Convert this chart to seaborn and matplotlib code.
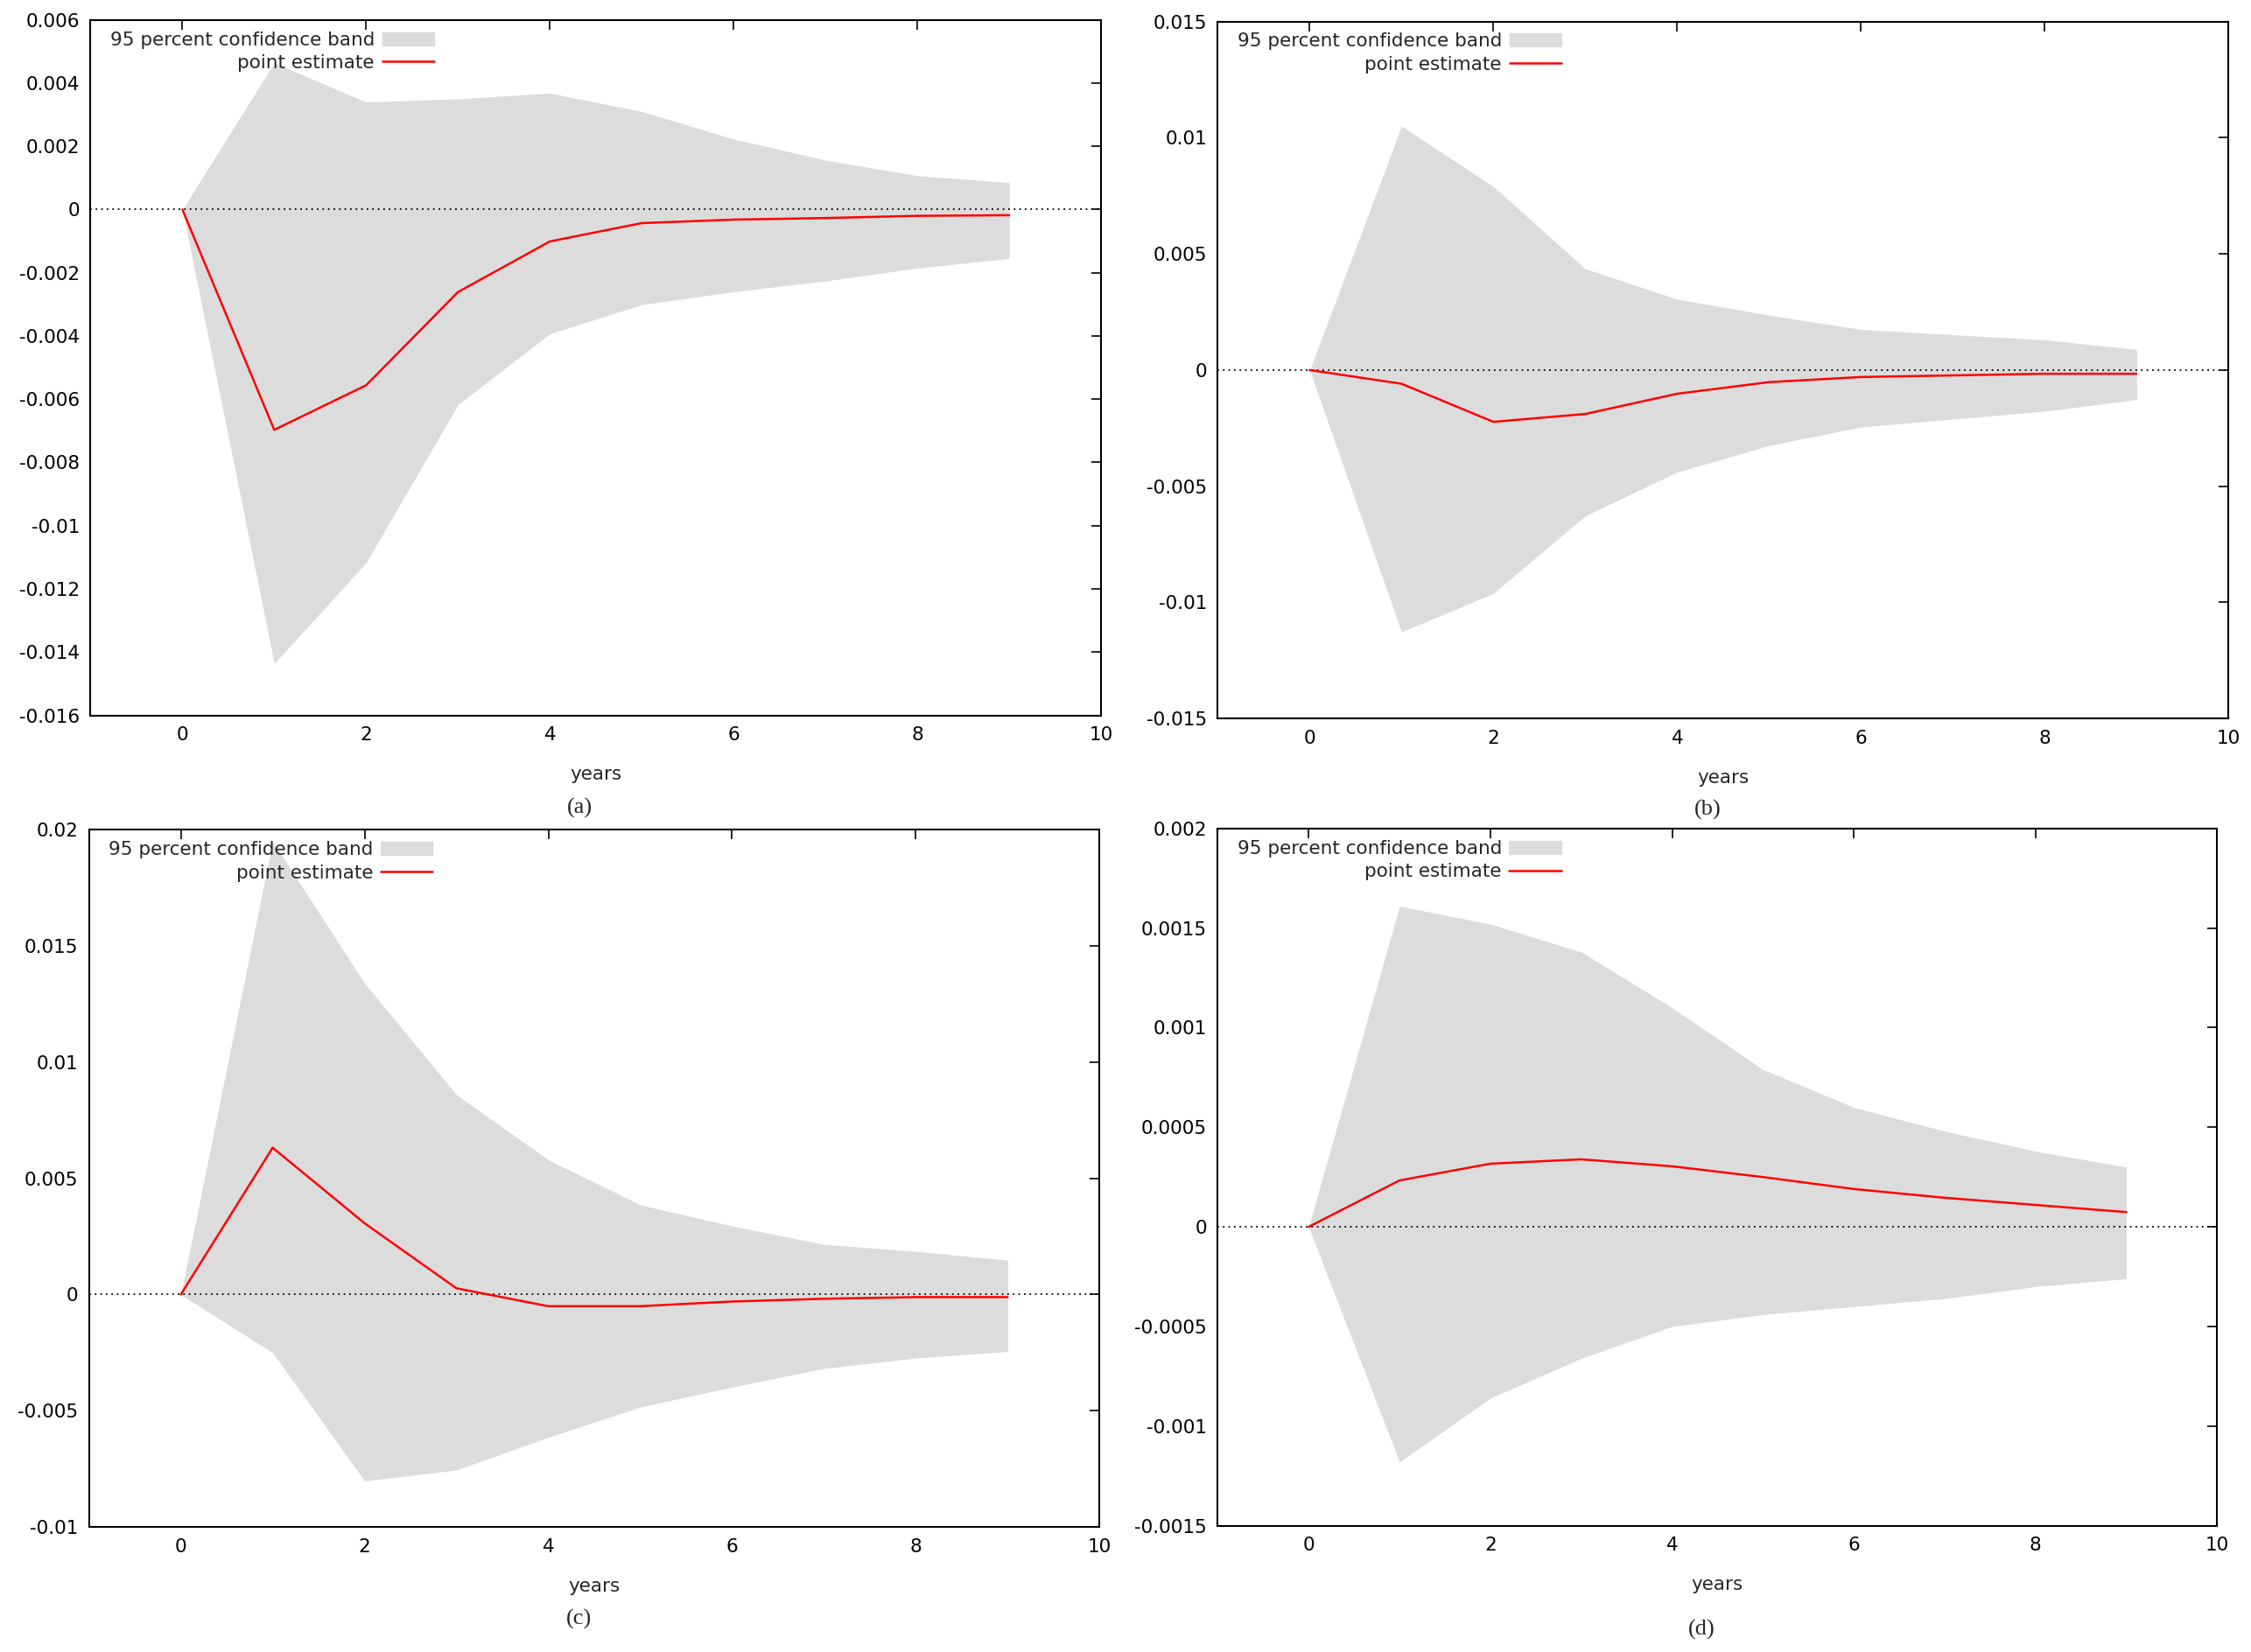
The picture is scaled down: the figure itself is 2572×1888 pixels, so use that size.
import numpy as np
import seaborn as sns
import matplotlib.pyplot as plt
from matplotlib.patches import Patch
from matplotlib.lines import Line2D
from matplotlib.ticker import FuncFormatter, MultipleLocator

years = [0, 1, 2, 3, 4, 5, 6, 7, 8, 9]

# panel (a)
est_a = [0, -0.00697, -0.00556, -0.00261, -0.00101, -0.00043, -0.00032, -0.00027, -0.00020, -0.00018]
up_a = [0, 0.00464, 0.00340, 0.00350, 0.00368, 0.00310, 0.00223, 0.00156, 0.00107, 0.00085]
lo_a = [0, -0.01436, -0.01117, -0.00617, -0.00393, -0.00301, -0.00260, -0.00226, -0.00185, -0.00155]

# panel (b)
est_b = [0, -0.00059, -0.00223, -0.00189, -0.00102, -0.00052, -0.00030, -0.00023, -0.00016, -0.00016]
up_b = [0, 0.01050, 0.00789, 0.00436, 0.00305, 0.00236, 0.00175, 0.00152, 0.00130, 0.00089]
lo_b = [0, -0.01127, -0.00961, -0.00627, -0.00439, -0.00325, -0.00245, -0.00211, -0.00177, -0.00127]

# panel (c)
est_c = [0, 0.00632, 0.00307, 0.00027, -0.00050, -0.00050, -0.00030, -0.00018, -0.00011, -0.00011]
up_c = [0, 0.01950, 0.01340, 0.00860, 0.00580, 0.00386, 0.00295, 0.00216, 0.00186, 0.00148]
lo_c = [0, -0.00250, -0.00802, -0.00755, -0.00614, -0.00484, -0.00398, -0.00318, -0.00273, -0.00245]

# panel (d)
est_d = [0, 0.000233, 0.000317, 0.000339, 0.000304, 0.000250, 0.000190, 0.000146, 0.000110, 0.000074]
up_d = [0, 0.00161, 0.00152, 0.00138, 0.00110, 0.00079, 0.00060, 0.00048, 0.00038, 0.00030]
lo_d = [0, -0.00118, -0.00086, -0.00066, -0.00050, -0.00044, -0.00040, -0.00036, -0.00030, -0.00026]

panels = [
    ("(a)", est_a, up_a, lo_a, (-0.016, 0.006), 0.002, [0.0402, 0.567, 0.449, 0.421], 0.056),
    ("(b)", est_b, up_b, lo_b, (-0.015, 0.015), 0.005, [0.541, 0.565, 0.449, 0.422], 0.055),
    ("(c)", est_c, up_c, lo_c, (-0.01, 0.02), 0.005, [0.0395, 0.0757, 0.449, 0.422], 0.056),
    ("(d)", est_d, up_d, lo_d, (-0.0015, 0.002), 0.0005, [0.541, 0.0765, 0.444, 0.422], 0.063),
]

sns.set_style("white")
plt.rcParams["font.family"] = ["DejaVu Sans"]
plt.rcParams["font.size"] = 14

band_color = "#dcdcdc"
fig = plt.figure(figsize=(25.72, 18.88), dpi=100)

for name, est, up, lo, ylim, step, rect, cap in panels:
    ax = fig.add_axes(rect)
    ax.fill_between(years, lo, up, color=band_color, lw=0)
    ax.axhline(0, color="black", ls=(0, (1, 2.5)), lw=1.3)
    sns.lineplot(x=years, y=est, color="red", lw=1.8, ax=ax)
    ax.set_xlim(-1, 10)
    ax.set_ylim(*ylim)
    ax.xaxis.set_major_locator(MultipleLocator(2))
    ax.yaxis.set_major_locator(MultipleLocator(step))
    ax.yaxis.set_major_formatter(FuncFormatter(lambda v, p: "{:g}".format(round(v, 6))))
    ax.tick_params(direction="in", length=8, width=1.2, top=True, right=True,
                   labelsize=15.5, colors="black", pad=9)
    for s in ax.spines.values():
        s.set_color("black")
        s.set_linewidth(1.5)
    ax.set_xlabel("years", fontsize=15.5, labelpad=18)
    handles = [Patch(color=band_color), Line2D([0], [0], color="red", lw=1.8)]
    ax.legend(handles, ["95 percent confidence band", "point estimate"], loc="upper left",
              bbox_to_anchor=(0.008, 1.0), frameon=False, markerfirst=False,
              fontsize=15.5, handlelength=2.75, handletextpad=0.4, labelspacing=0.3,
              borderaxespad=0.2)
    cx = rect[0] + rect[2] / 2 - 0.007
    fig.text(cx, rect[1] - cap, name, ha="center", va="center",
             family="Liberation Serif", fontsize=19)

fig.savefig("out.png", dpi=100, facecolor="white")
